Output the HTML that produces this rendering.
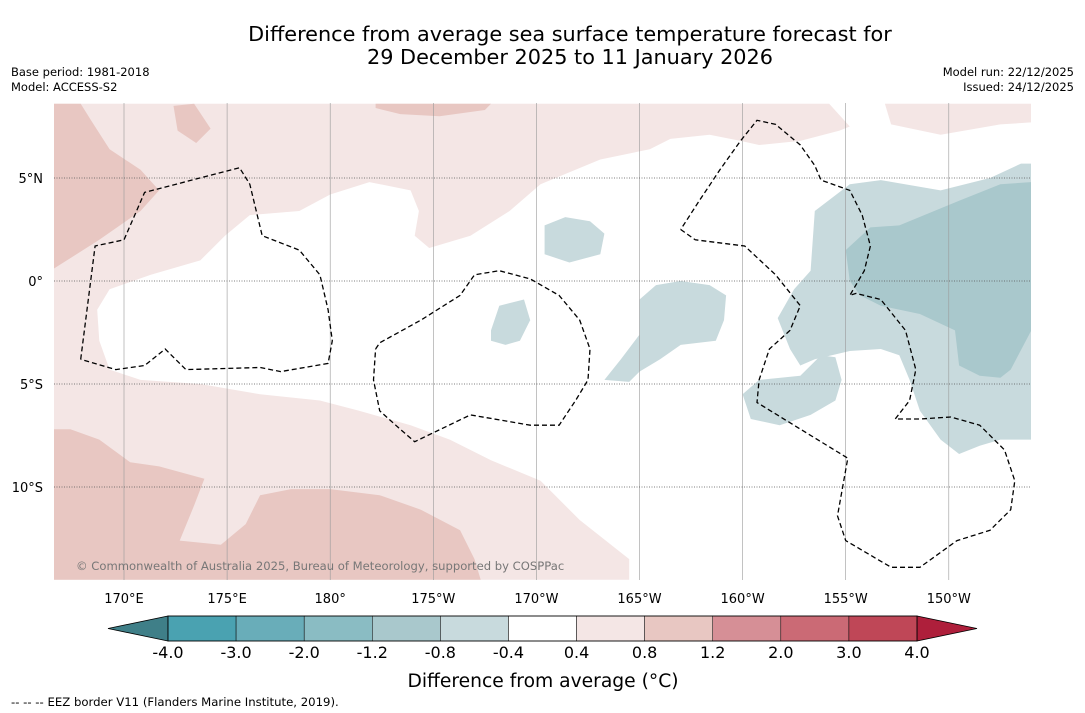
<!DOCTYPE html>
<html><head><meta charset="utf-8">
<style>
html,body{margin:0;padding:0;background:#fff;width:1085px;height:713px;overflow:hidden;font-family:"DejaVu Sans","Liberation Sans",sans-serif;}
svg{display:block;font-family:"DejaVu Sans","Liberation Sans",sans-serif;}
</style></head>
<body>
<svg id="chart" width="1085" height="713" xmlns="http://www.w3.org/2000/svg"></svg>
<script>
// ---- data ----
const lonTicks = [170,175,180,185,190,195,200,205,210];
const lonTickLabels = ["170°E","175°E","180°","175°W","170°W","165°W","160°W","155°W","150°W"];
const latTicks = [5,0,-5,-10];
const latTickLabels = ["5°N","0°","5°S","10°S"];
const cbBounds = [-4.0,-3.0,-2.0,-1.2,-0.8,-0.4,0.4,0.8,1.2,2.0,3.0,4.0];
const cbLabels = ["-4.0","-3.0","-2.0","-1.2","-0.8","-0.4","0.4","0.8","1.2","2.0","3.0","4.0"];
const cbColors = ["#4aa2b1","#69adb9","#8abcc3","#a9c8cc","#c8dadd","#ffffff","#f4e6e5","#e8c7c2","#d68f96","#cb6a75","#bf4757"];
const cbUnder = "#3f7f88";
const cbOver = "#ae1f3b";
// anomaly regions [lon(°E 0-360), lat]
const pinkLight = [[166.6,8.6],[204.2,8.6],[205.2,7.5],[204.7,7.3],[202.8,6.8],[200.8,6.6],[199.9,6.8],[198.4,7.1],[196.5,6.9],[195.5,6.4],[193.1,5.9],[190.2,4.7],[188.7,3.4],[186.8,2.2],[184.8,1.6],[184.1,2.2],[184.3,3.4],[183.9,4.4],[181.9,4.8],[180.0,4.2],[178.5,3.4],[176.1,3.2],[174.9,2.2],[173.7,1.0],[171.3,0.3],[169.3,-0.4],[168.7,-1.4],[168.8,-2.9],[169.3,-4.3],[170.8,-4.8],[173.7,-5.0],[176.6,-5.5],[179.5,-5.8],[181.4,-6.3],[183.9,-7.0],[185.8,-7.7],[187.8,-8.7],[190.2,-9.7],[192.1,-11.6],[194.5,-13.5],[194.5,-14.5],[166.6,-14.5]];
const pinkLightNE = [[206.9,8.6],[207.2,7.6],[209.6,7.1],[212.5,7.6],[214.0,7.7],[214.0,8.6]];
const pinkDarkNW = [[166.6,8.6],[167.9,8.6],[168.4,7.8],[169.3,6.4],[170.8,5.4],[171.7,4.4],[170.8,3.4],[168.8,2.0],[166.6,0.6]];
const pinkDarkBlob = [[172.4,8.5],[173.4,8.6],[174.2,7.4],[173.5,6.7],[172.6,7.3]];
const pinkDarkTop = [[182.2,8.6],[187.8,8.6],[187.5,8.3],[185.3,8.0],[183.4,8.1],[182.2,8.4]];
const pinkDarkSW = [[166.6,-7.2],[167.4,-7.2],[168.8,-7.7],[170.3,-8.8],[171.7,-9.0],[173.9,-9.6],[173.4,-10.9],[172.7,-12.6],[174.7,-12.8],[175.9,-11.8],[176.6,-10.4],[178.1,-10.1],[180.0,-10.1],[182.4,-10.4],[184.4,-11.1],[186.3,-12.1],[187.0,-13.5],[187.3,-14.5],[166.6,-14.5]];
const blueLightE = [[203.5,3.4],[205.2,4.7],[206.7,4.9],[209.6,4.4],[212.0,5.0],[213.5,5.7],[214.0,5.7],[214.0,-7.7],[212.5,-7.7],[211.5,-8.0],[210.5,-8.4],[209.6,-7.7],[208.6,-6.3],[208.1,-4.8],[207.6,-3.6],[206.7,-3.3],[205.2,-3.4],[203.5,-3.8],[202.8,-4.1],[202.3,-3.3],[201.7,-1.8],[202.5,-0.4],[203.3,0.5]];
const blueBlob1 = [[190.4,2.7],[191.4,3.1],[192.6,2.9],[193.3,2.3],[193.1,1.3],[191.6,0.9],[190.4,1.3],[190.4,2.0]];
const blueBlob2 = [[187.8,-2.4],[188.2,-1.2],[189.4,-0.9],[189.7,-1.9],[189.2,-2.9],[188.5,-3.1],[187.8,-2.9]];
const blueMid = [[195.0,-0.9],[195.8,-0.2],[197.0,0.0],[198.4,-0.2],[199.2,-0.7],[199.1,-1.9],[198.7,-2.9],[197.0,-3.1],[196.0,-3.8],[195.0,-4.4],[194.5,-4.9],[193.3,-4.8],[194.1,-3.8],[195.0,-2.6]];
const blueLower = [[200.0,-5.5],[200.8,-4.8],[202.8,-4.6],[203.8,-3.6],[204.5,-3.7],[204.8,-4.8],[204.5,-5.8],[203.3,-6.5],[201.8,-7.0],[200.4,-6.7]];
const blueDark = [[205.0,1.5],[206.2,2.6],[207.6,2.7],[210.5,3.9],[212.5,4.7],[214.0,4.8],[214.0,-2.4],[213.0,-4.3],[212.5,-4.7],[211.5,-4.6],[210.5,-4.1],[210.3,-2.4],[208.6,-1.6],[206.7,-1.2],[205.7,-0.7],[205.2,0.0]];
const eez1 = [[167.9,-3.8],[168.6,1.7],[170.0,2.0],[171.0,4.3],[175.6,5.5],[176.1,4.7],[176.7,2.2],[178.5,1.5],[179.5,0.3],[179.9,-1.4],[180.1,-2.9],[179.9,-4.0],[177.6,-4.4],[176.6,-4.2],[173.0,-4.3],[172.0,-3.3],[171.0,-4.1],[169.6,-4.3],[167.9,-3.8]];
const eez2 = [[182.2,-3.3],[182.4,-3.0],[184.4,-1.9],[186.3,-0.7],[187.0,0.3],[188.2,0.5],[189.7,0.1],[191.1,-0.7],[192.1,-1.9],[192.6,-3.3],[192.5,-4.8],[191.9,-5.8],[191.1,-7.0],[189.7,-7.0],[186.8,-6.5],[184.1,-7.8],[183.4,-7.2],[182.4,-6.3],[182.1,-4.8],[182.2,-3.3]];
const eez3 = [[197.0,2.5],[197.7,2.0],[200.1,1.7],[201.6,0.3],[202.8,-1.2],[202.3,-2.4],[201.3,-3.3],[200.8,-4.8],[200.7,-5.9],[205.1,-8.6],[204.6,-11.4],[205.0,-12.6],[207.2,-13.9],[208.6,-13.9],[210.4,-12.6],[212.0,-12.1],[213.0,-11.1],[213.2,-9.7],[212.7,-8.2],[211.5,-7.0],[210.1,-6.6],[208.6,-6.7],[207.4,-6.7],[208.1,-5.8],[208.4,-4.3],[207.9,-2.4],[206.7,-0.9],[205.5,-0.6],[205.2,-0.7],[205.9,0.5],[206.2,1.7],[205.8,3.2],[205.2,4.4],[203.8,4.9],[203.5,5.6],[202.8,6.6],[201.6,7.6],[200.7,7.8],[199.9,6.8],[198.9,5.4],[197.9,3.9],[197.0,2.5]];

// ---- axes ----
const MAP = {x0:54, x1:1031, y0:103, y1:580};
const xOf = lon => 124 + (lon-170)*20.62;
const yOf = lat => 281 - lat*20.6;
const CB = {x0:168, x1:917, y0:616, y1:641};
const cbX = i => CB.x0 + i*(CB.x1-CB.x0)/(cbBounds.length-1);

const NS = "http://www.w3.org/2000/svg";
const svg = document.getElementById('chart');
function mk(tag, attrs, parent){ const e=document.createElementNS(NS,tag); for(const k in attrs) e.setAttribute(k,attrs[k]); (parent||svg).appendChild(e); return e; }
function txt(s, attrs, parent){ const e=mk('text',attrs,parent); e.textContent=s; return e; }
const pts = arr => arr.map(p=>xOf(p[0]).toFixed(1)+','+yOf(p[1]).toFixed(1)).join(' ');

// titles
let t = txt("Difference from average sea surface temperature forecast for",{x:570,y:41,'text-anchor':'middle','font-size':20.8,fill:'#000'});
 
t = txt("29 December 2025 to 11 January 2026",{x:570,y:64,'text-anchor':'middle','font-size':20.8,fill:'#000'});
 
t = txt("Base period: 1981-2018",{x:11,y:76,'font-size':11.5});  
t = txt("Model: ACCESS-S2",{x:11,y:91,'font-size':11.5});  
t = txt("Model run: 22/12/2025",{x:1074,y:76,'font-size':11.5,'text-anchor':'end'});  
t = txt("Issued: 24/12/2025",{x:1074,y:91,'font-size':11.5,'text-anchor':'end'});  

// map
const clip = mk('clipPath',{id:'mapclip'}); mk('rect',{x:MAP.x0,y:MAP.y0,width:MAP.x1-MAP.x0,height:MAP.y1-MAP.y0},clip);
const map = mk('g',{'clip-path':'url(#mapclip)'});
 
mk('rect',{x:MAP.x0,y:MAP.y0,width:MAP.x1-MAP.x0,height:MAP.y1-MAP.y0,fill:'#fff'},map);
const regions = [
 [pinkLight,cbColors[6],'warm-anomaly-region'],[pinkLightNE,cbColors[6],'warm-anomaly-region-ne'],
 [pinkDarkNW,cbColors[7],'warm-anomaly-strong-nw'],[pinkDarkBlob,cbColors[7],'warm-anomaly-strong-blob'],
 [pinkDarkTop,cbColors[7],'warm-anomaly-strong-top'],[pinkDarkSW,cbColors[7],'warm-anomaly-strong-sw'],
 [blueLightE,cbColors[4],'cool-anomaly-east'],[blueBlob1,cbColors[4],'cool-anomaly-blob-1'],
 [blueBlob2,cbColors[4],'cool-anomaly-blob-2'],[blueMid,cbColors[4],'cool-anomaly-mid'],
 [blueLower,cbColors[4],'cool-anomaly-lower'],[blueDark,cbColors[3],'cool-anomaly-strong-east']
];
regions.forEach(r=>{
  const p = mk('polygon',{points:pts(r[0]),fill:r[1],stroke:'none'},map);
  
  
});
// graticule
lonTicks.forEach(lon=>{
  const l = mk('line',{x1:xOf(lon),x2:xOf(lon),y1:MAP.y0,y2:MAP.y1,stroke:'#999','stroke-width':0.6},map);
   
});
latTicks.forEach(lat=>{
  const l = mk('line',{x1:MAP.x0,x2:MAP.x1,y1:yOf(lat),y2:yOf(lat),stroke:'#555','stroke-width':0.7,'stroke-dasharray':'1,1.5'},map);
   
});
// EEZ
[eez1,eez2,eez3].forEach((e,i)=>{
  const l = mk('polyline',{points:pts(e),fill:'none',stroke:'#000','stroke-width':1.3,'stroke-dasharray':'5,3'},map);
   
});
t = txt("© Commonwealth of Australia 2025, Bureau of Meteorology, supported by COSPPac",{x:76,y:570,'font-size':11.6,fill:'#777'},map);
 

// tick labels
lonTicks.forEach((lon,i)=>{
  const e = txt(lonTickLabels[i],{x:xOf(lon),y:603,'text-anchor':'middle','font-size':13});
   
});
latTicks.forEach((lat,i)=>{
  const e = txt(latTickLabels[i],{x:43,y:yOf(lat)+5,'text-anchor':'end','font-size':13});
   
});

// colorbar
const cb = mk('g',{});  
const ym = (CB.y0+CB.y1)/2;
let tri = mk('polygon',{points:`${CB.x0},${CB.y0} ${CB.x0},${CB.y1} 108,${ym}`,fill:cbUnder,stroke:'#000','stroke-width':0.8},cb);
 
tri = mk('polygon',{points:`${CB.x1},${CB.y0} ${CB.x1},${CB.y1} 977,${ym}`,fill:cbOver,stroke:'#000','stroke-width':0.8},cb);
 
cbColors.forEach((c,i)=>{
  const r = mk('rect',{x:cbX(i),y:CB.y0,width:cbX(i+1)-cbX(i),height:CB.y1-CB.y0,fill:c,stroke:'#000','stroke-width':0.5},cb);
   
});
mk('rect',{x:CB.x0,y:CB.y0,width:CB.x1-CB.x0,height:CB.y1-CB.y0,fill:'none',stroke:'#000','stroke-width':0.8},cb);
cbBounds.forEach((b,i)=>{
  const e = txt(cbLabels[i],{x:cbX(i),y:658,'text-anchor':'middle','font-size':16},cb);
   
});
t = txt("Difference from average (°C)",{x:543,y:687,'text-anchor':'middle','font-size':18.7});
 
t = txt("-- -- -- EEZ border V11 (Flanders Marine Institute, 2019).",{x:11,y:706,'font-size':11.7});
 
</script>
</body></html>
